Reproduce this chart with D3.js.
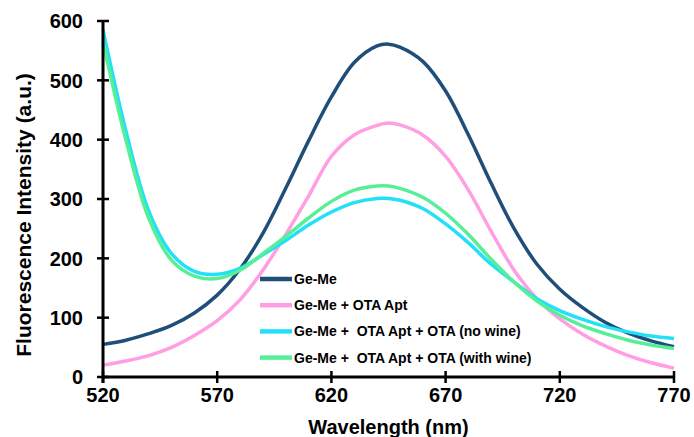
<!DOCTYPE html>
<html>
<head>
<meta charset="utf-8">
<script src="https://cdn.jsdelivr.net/npm/d3@7"></script>
<style>
  body { margin: 0; background: #fff; }
  text { font-family: "Liberation Sans", Arial, sans-serif; font-weight: bold; fill: #000; }
</style>
</head>
<body>
<svg width="694" height="437"></svg>
<script>
// wavelength (nm) and readings
const wavelengths = [520, 530, 540, 550, 560, 570, 580, 590, 600, 610, 620, 630, 640, 645, 650, 660, 670, 680, 690, 700, 710, 720, 730, 740, 750, 760, 770];

const geMe =      [55, 62, 73, 87, 108, 138, 182, 242, 318, 398, 472, 530, 558, 561, 556, 532, 482, 408, 326, 250, 190, 148, 117, 92, 74, 61, 51];
const geMeApt =   [20, 27, 36, 50, 70, 95, 130, 180, 240, 305, 372, 408, 424, 428, 425, 408, 372, 315, 245, 180, 132, 98, 72, 52, 36, 24, 15];
const noWine =    [585, 415, 280, 208, 178, 173, 183, 206, 230, 256, 278, 294, 301, 301, 298, 284, 258, 226, 190, 160, 132, 112, 97, 85, 76, 69, 65];
const withWine =  [565, 400, 268, 197, 170, 166, 180, 208, 237, 268, 296, 315, 322, 322, 318, 303, 276, 240, 198, 160, 128, 104, 86, 73, 62, 54, 48];

const seriesNames = ["Ge-Me", "Ge-Me + OTA Apt", "Ge-Me +  OTA Apt + OTA (no wine)", "Ge-Me +  OTA Apt + OTA (with wine)"];
const seriesColors = ["#1f4e79", "#ff9ee2", "#22e0f8", "#55ef98"];
const seriesValues = [geMe, geMeApt, noWine, withWine];

const xTicks = [520, 570, 620, 670, 720, 770];
const yTicks = [0, 100, 200, 300, 400, 500, 600];

const svg = d3.select("svg");
const margin = {top: 21, right: 20, bottom: 60, left: 103};
const width = 674 - margin.left;
const height = 377 - margin.top;

const x = d3.scaleLinear().domain([520, 770]).range([0, width]);
const y = d3.scaleLinear().domain([0, 600]).range([height, 0]);

const g = svg.append("g").attr("transform", `translate(${margin.left},${margin.top})`);

const line = d3.line()
  .x(d => x(d[0]))
  .y(d => y(d[1]))
  .curve(d3.curveCatmullRom.alpha(0.5));

// green drawn last, over cyan
seriesValues.forEach((vals, i) => {
  g.append("path")
    .datum(wavelengths.map((w, j) => [w, vals[j]]))
    .attr("fill", "none")
    .attr("stroke", seriesColors[i])
    .attr("stroke-width", 3.5)
    .attr("d", line);
});

// axes
const xAxis = g.append("g").attr("transform", `translate(0,${height})`);
xAxis.append("line").attr("x1", 0).attr("x2", width).attr("stroke", "#000").attr("stroke-width", 3);
xAxis.selectAll(".tick").data(xTicks).enter().append("g")
  .attr("transform", d => `translate(${x(d)},0)`)
  .each(function(d) {
    const t = d3.select(this);
    t.append("line").attr("y1", -6).attr("y2", 6).attr("stroke", "#000").attr("stroke-width", 2.5);
    t.append("text").attr("y", 25).attr("text-anchor", "middle").style("font-size", "20px").text(d);
  });

const yAxis = g.append("g");
yAxis.append("line").attr("y1", 0).attr("y2", height + 6).attr("stroke", "#000").attr("stroke-width", 3);
yAxis.selectAll(".tick").data(yTicks).enter().append("g")
  .attr("transform", d => `translate(0,${y(d)})`)
  .each(function(d) {
    const t = d3.select(this);
    t.append("line").attr("x1", -6).attr("x2", 6).attr("stroke", "#000").attr("stroke-width", 2.5);
    t.append("text").attr("x", -20).attr("dy", "0.36em").attr("text-anchor", "end").style("font-size", "20px").text(d);
  });

// titles
svg.append("text")
  .attr("x", margin.left + x(645))
  .attr("y", 434)
  .attr("text-anchor", "middle")
  .style("font-size", "20px")
  .text("Wavelength (nm)");

svg.append("text")
  .attr("transform", "translate(31,215) rotate(-90)")
  .attr("text-anchor", "middle")
  .style("font-size", "21px")
  .text("Fluorescence Intensity (a.u.)");

// legend
const legend = svg.append("g").attr("transform", "translate(260,279)");
seriesNames.forEach((name, i) => {
  const row = legend.append("g").attr("transform", `translate(0,${i * 26.2})`);
  row.append("line").attr("x1", 0).attr("x2", 32).attr("stroke", seriesColors[i]).attr("stroke-width", 4.5);
  row.append("text").attr("x", 34).attr("dy", "0.36em")
    .style("font-size", "14px").style("white-space", "pre")
    .text(name);
});
</script>
</body>
</html>
